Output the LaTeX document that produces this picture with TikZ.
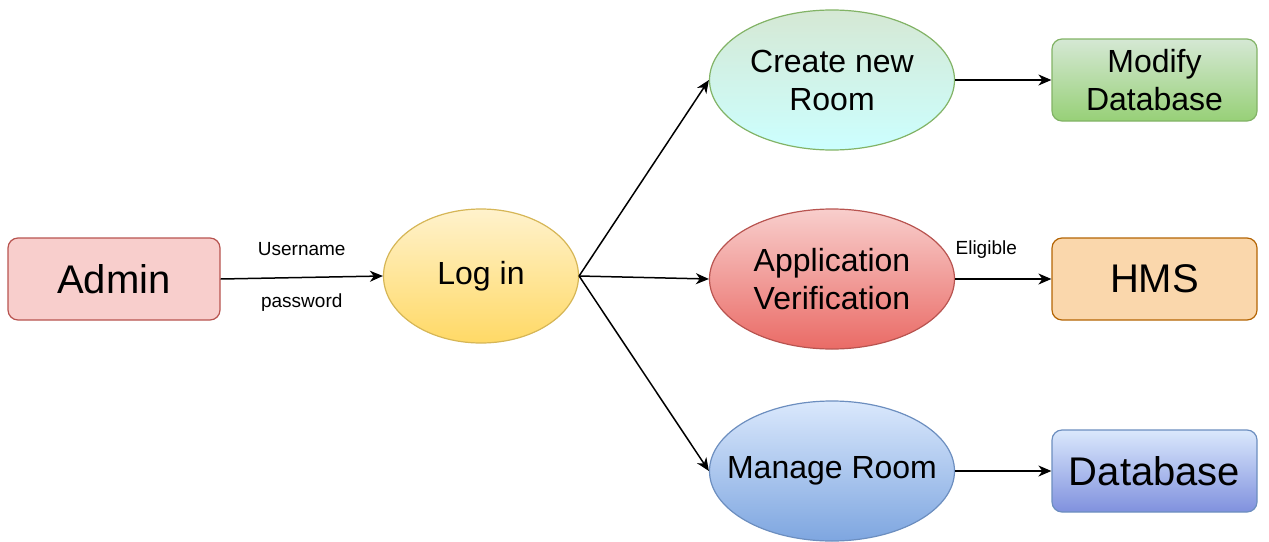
\documentclass[tikz,border=0pt]{standalone}
\usepackage{fontspec}
\setmainfont{Liberation Sans}
\usetikzlibrary{shapes.geometric,arrows.meta}
\definecolor{adminF}{HTML}{F8CECC}\definecolor{redD}{HTML}{B85450}
\definecolor{yelT}{HTML}{FFF2CC}\definecolor{yelB}{HTML}{FFD966}\definecolor{yelD}{HTML}{D6B656}
\definecolor{grnT}{HTML}{D5E8D4}\definecolor{cyaB}{HTML}{CCFFFF}\definecolor{grnD}{HTML}{82B366}
\definecolor{redB}{HTML}{EA6B66}
\definecolor{bluT}{HTML}{DAE8FC}\definecolor{bluB}{HTML}{7EA6E0}\definecolor{bluD}{HTML}{6C8EBF}
\definecolor{grnB}{HTML}{97D077}
\definecolor{orgF}{HTML}{FAD7AC}\definecolor{orgD}{HTML}{B46504}
\definecolor{purB}{HTML}{8091DE}
\begin{document}
\begin{tikzpicture}[x=1pt,y=-1pt,
  box/.style={draw, rounded corners=10pt, line width=1.2pt, minimum width=205pt, minimum height=82pt, inner sep=0pt, align=center},
  oval/.style={draw, ellipse, line width=1.2pt, minimum width=245pt, minimum height=140pt, inner sep=0pt, align=center},
  big/.style={font=\fontsize{40}{46}\selectfont},
  mid/.style={font=\fontsize{32}{38}\selectfont},
  lbl/.style={font=\fontsize{19}{22}\selectfont, inner sep=0pt},
  arr/.style={draw, line width=1.5pt, -{Stealth[length=13pt,width=11pt,inset=4pt]}}
]
\useasboundingbox (0,0) rectangle (1269,541);
\node[box, big, fill=adminF, draw=redD, minimum width=212pt] (admin) at (114,279) {Admin};
\node[oval, mid, top color=yelT, bottom color=yelB, draw=yelD, minimum width=195pt, minimum height=134pt] (login) at (481,276) {Log in};
\node[oval, mid, top color=grnT, bottom color=cyaB, draw=grnD] (create) at (832,80) {Create new\\Room};
\node[oval, mid, top color=adminF, bottom color=redB, draw=redD] (appver) at (832,279) {Application\\Verification};
\node[oval, mid, top color=bluT, bottom color=bluB, draw=bluD, inner xsep=-22pt] (manage) at (832,471) {Manage Room};
\node[box, mid, top color=grnT, bottom color=grnB, draw=grnD] (modify) at (1154.5,80) {Modify\\Database};
\node[box, big, fill=orgF, draw=orgD] (hms) at (1154.5,279) {HMS};
\node[box, big, top color=bluT, bottom color=purB, draw=bluD] (db) at (1154.5,471) {Database};
\draw[arr] (admin.east) -- node[lbl, midway, yshift=28pt] {Username} node[lbl, midway, yshift=-25pt] {password} (login.west);
\draw[arr] (login.east) -- (create.west);
\draw[arr] (login.east) -- (appver.west);
\draw[arr] (login.east) -- (manage.west);
\draw[arr] (create.east) -- (modify.west);
\draw[arr] (appver.east) -- node[lbl, midway, xshift=-17pt, yshift=29pt] {Eligible} (hms.west);
\draw[arr] (manage.east) -- (db.west);
\end{tikzpicture}
\end{document}
